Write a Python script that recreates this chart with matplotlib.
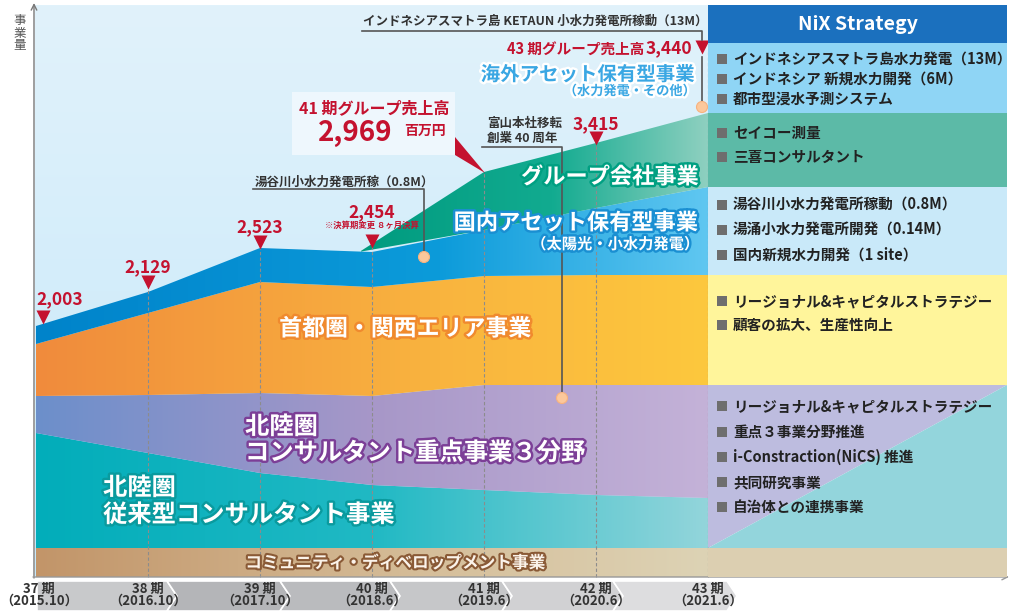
import matplotlib
matplotlib.use("Agg")
import matplotlib.pyplot as plt
import matplotlib.patheffects as pe
from matplotlib.patches import Polygon, Rectangle, Circle
from matplotlib.colors import LinearSegmentedColormap
from matplotlib.transforms import ScaledTranslation
import numpy as np

plt.rcParams['font.family'] = ['Noto Sans CJK JP', 'DejaVu Sans']

# --- data ---
periods = [37, 38, 39, 40, 41, 42, 43]
period_dates = ['2015.10', '2016.10', '2017.10', '2018.6', '2019.6', '2020.6', '2021.6']
sales = [2003, 2129, 2523, 2454, 2969, 3415, 3440]  # 百万円

# schematic band tops (height above the axis, chart units)
community_top = [29, 29, 29, 29, 29, 29, 29]
hokuriku_trad_top = [144, 124, 104, 92, 87, 82, 79]
hokuriku_focus_top = [181, 182, 184, 181, 192, 192, 192]
metro_top = [233, 264, 295, 290, 301, 302, 302]
domestic_asset_top = [251, 285, 329, 325, 347, 369, 390]
group_x = [39.9, 41, 42, 43]
group_top = [326, 405, 434, 464]

overseas_items = ['インドネシアスマトラ島水力発電（13M）', 'インドネシア 新規水力開発（6M）', '都市型浸水予測システム']
group_items = ['セイコー測量', '三喜コンサルタント']
domestic_items = ['湯谷川小水力発電所稼動（0.8M）', '湯涌小水力発電所開発（0.14M）', '国内新規水力開発（1 site）']
metro_items = ['リージョナル&キャピタルストラテジー', '顧客の拡大、生産性向上']
hokuriku_items = ['リージョナル&キャピタルストラテジー', '重点３事業分野推進', 'i-Constraction(NiCS) 推進',
                  '共同研究事業', '自治体との連携事業']

red = '#c4122f'
dark = '#333333'

fig = plt.figure(figsize=(10.10, 6.11), dpi=100)

# background layer (pixel coords)
bg = fig.add_axes([0, 0, 1, 1], zorder=0)
sky = LinearSegmentedColormap.from_list('sky', ['#e1f2fb', '#c6e8f9'])
bg.imshow(np.linspace(0, 1, 256).reshape(-1, 1), cmap=sky, extent=[35, 708, 577, 5], aspect='auto')
chev = [37, 167, 280, 390, 502, 613, 727]
shades = ['#c8c9cb', '#b4b5b8', '#babbbe', '#c6c7c9', '#d1d1d3', '#dddddf']
for i in range(len(shades)):
    a, b = chev[i], chev[i + 1]
    pts = [(a, 581), (b, 581), (b + 10, 596), (b, 611), (a, 611)]
    if i > 0:
        pts.append((a + 10, 596))
    bg.add_patch(Polygon(pts, closed=True, fc=shades[i], ec='white', lw=1.2))
bg.set_xlim(0, 1010)
bg.set_ylim(611, 0)
bg.axis('off')

# data layer
ax = fig.add_axes([0, 0, 1, 1], zorder=1)
ax.patch.set_alpha(0)
x0 = periods[0] - 36 / 112
x1 = periods[0] + 974 / 112


def grad_band(xs, lo, hi, stops, z=2):
    poly = ax.fill_between(xs, lo, hi, facecolor='none', edgecolor='none', zorder=z)
    cmap = LinearSegmentedColormap.from_list('band', stops)
    im = ax.imshow(np.linspace(0, 1, 256).reshape(1, -1), cmap=cmap,
                   extent=[xs[0], xs[-1], min(lo), max(hi)], aspect='auto',
                   origin='lower', interpolation='bilinear', zorder=z)
    im.set_clip_path(poly.get_paths()[0], transform=ax.transData)


zero = [0] * len(periods)
grad_band(periods, zero, community_top, [(0, '#c29569'), (0.6, '#d6bf9b'), (1, '#ddd3b5')])
grad_band(periods, community_top, hokuriku_trad_top, [(0, '#02adba'), (0.5, '#20b9c4'), (1, '#93d5db')])
grad_band(periods, hokuriku_trad_top, hokuriku_focus_top, [(0, '#6c8fcb'), (0.5, '#a797c8'), (1, '#c4b2d8')])
grad_band(periods, hokuriku_focus_top, metro_top, [(0, '#f08b3c'), (0.6, '#f9b43f'), (1, '#fdc83d')])
grad_band(periods, metro_top, domestic_asset_top, [(0, '#0083ca'), (0.6, '#0c9bda'), (1, '#60c7f1')])
group_base = np.interp(group_x, periods, domestic_asset_top)
grad_band(group_x, group_base, group_top, [(0, '#009b7f'), (0.55, '#12ab90'), (1, '#8fd0c0')])

stack_top = np.maximum(domestic_asset_top, np.interp(periods, group_x, group_top, left=0))

# value markers
tip_gap = [4, 5, 1, -2, 0, 0, 61]      # px above band top
mark_dx = [7, 0, 0, 0, 0, 0, -6]        # px
text_dx = [24, 0, 0, 0, 0, 0, 0]
text_dy = [23, 20, 20, 34, 0, 19, 0]
k = 0.72  # px -> pt
for i, p in enumerate(periods):
    tip = stack_top[i]
    if i == 0:
        continue_line = False
    else:
        ax.vlines(p, 0, tip + tip_gap[i], color='#8c8c8c', lw=0.8, ls=(0, (3, 2)), zorder=3)
    if i == 4:
        continue
    tr = ax.transData + ScaledTranslation(mark_dx[i] * k / 72, (tip_gap[i] + 5) * k / 72, fig.dpi_scale_trans)
    ax.plot([p], [tip], marker='v', ms=9.5, color=red, mec='none', transform=tr, zorder=4)
    if i == 6:
        continue
    ax.annotate(f'{sales[i]:,}', (p, tip), xytext=(text_dx[i] * k, (tip_gap[i] + text_dy[i]) * k),
                textcoords='offset points', ha='center', va='center', fontsize=12.5,
                fontweight='bold', color=red, zorder=4)
    if i == 3:
        ax.annotate('※決算期変更 ８ヶ月決算', (p, tip), xytext=(0, (tip_gap[i] + 20) * k),
                    textcoords='offset points', ha='center', va='center', fontsize=6,
                    fontweight='bold', color=red, zorder=4)

for i, (p, d) in enumerate(zip(periods, period_dates)):
    dx = 3 * k if i == 0 else 0
    ax.annotate(f'{p} 期', (p, -12), xytext=(dx, 0), textcoords='offset points',
                ha='center', va='center', fontsize=9.5, fontweight='bold', color=dark)
    ax.annotate(f'（{d}）', (p, -24), xytext=(dx, 0), textcoords='offset points',
                ha='center', va='center', fontsize=9.5, fontweight='bold', color=dark)

ax.set_xlim(x0, x1)
ax.set_ylim(-34, 577)
ax.axis('off')

# overlay layer (pixel coords)
ov = fig.add_axes([0, 0, 1, 1], zorder=2)
ov.patch.set_alpha(0)
ov.set_xlim(0, 1010)
ov.set_ylim(611, 0)
ov.axis('off')

ov.annotate('', xy=(34, 3), xytext=(34, 578),
            arrowprops=dict(arrowstyle='->', color='#777777', lw=1, shrinkA=0, shrinkB=0))
ov.annotate('', xy=(1009, 577), xytext=(33, 577),
            arrowprops=dict(arrowstyle='->', color='#999999', lw=1, shrinkA=0, shrinkB=0))
ov.text(20, 33, '事\n業\n量', ha='center', va='center', fontsize=9, color='#555555', linespacing=0.92)

# event annotations
ov.text(255, 182, '湯谷川小水力発電所稼（0.8M）', ha='left', va='center', fontsize=9, fontweight='bold', color=dark)
ov.plot([253, 424, 424], [189, 189, 251], color='#555555', lw=1.2, zorder=2)
ov.text(363, 21, 'インドネシアスマトラ島 KETAUN 小水力発電所稼動（13M）', ha='left', va='center',
        fontsize=9, fontweight='bold', color=dark)
ov.plot([362, 702, 702], [31, 31, 40], color='#555555', lw=1.2, zorder=2)
ov.plot([702, 702], [57, 102], color='#555555', lw=1.2, zorder=2)
ov.text(487, 123, '富山本社移転', ha='left', va='center', fontsize=9, fontweight='bold', color=dark)
ov.text(487, 138, '創業 40 周年', ha='left', va='center', fontsize=9, fontweight='bold', color=dark)
ov.plot([482, 562, 562], [147, 147, 392], color='#555555', lw=1.2, zorder=2)
for cx, cy in [(424, 257), (702, 107), (562, 398)]:
    ov.add_patch(Circle((cx, cy), 5.5, fc='#fcc89b', ec='#f7b27e', lw=0.8, zorder=3))

# 41 callout
ov.add_patch(Rectangle((292, 92), 163, 63, fc='#eef7fd', ec='none', zorder=3))
ov.add_patch(Polygon([(455, 137), (455, 155), (485, 173)], closed=True, fc=red, ec='none', zorder=3))
ov.text(374, 108, '41 期グループ売上高', ha='center', va='center', fontsize=11.5, fontweight='bold', color=red, zorder=4)
ov.text(355, 133, f'{sales[4]:,}', ha='center', va='center', fontsize=20, fontweight='bold', color=red, zorder=4)
ov.text(425, 131, '百万円', ha='center', va='center', fontsize=10, fontweight='bold', color=red, zorder=4)

ov.text(692, 48, f'{sales[6]:,}', ha='right', va='center', fontsize=12.5, fontweight='bold', color=red)
ov.text(644, 49, '43 期グループ売上高', ha='right', va='center', fontsize=10.5, fontweight='bold', color=red)


def band_label(x, y, s, size, fill, edge, ha='center', lw=3.5):
    ov.text(x, y, s, ha=ha, va='center', fontsize=size, fontweight='bold', color=fill, zorder=5,
            path_effects=[pe.withStroke(linewidth=lw, foreground=edge)])


band_label(588, 75, '海外アセット保有型事業', 14, '#3aa7e3', 'white')
band_label(630, 91, '（水力発電・その他）', 9.5, '#3aa7e3', 'white')
band_label(610, 177, 'グループ会社事業', 16, 'white', '#00a082')
band_label(576, 223, '国内アセット保有型事業', 16, 'white', '#1a8fd2')
band_label(615, 244, '（太陽光・小水力発電）', 11, 'white', '#1a8fd2')
band_label(405, 329, '首都圏・関西エリア事業', 16.5, 'white', '#f08a2e')
band_label(245, 427, '北陸圏', 17.5, 'white', '#7c3f97', ha='left')
band_label(245, 453, 'コンサルタント重点事業３分野', 17.5, 'white', '#7c3f97', ha='left')
band_label(103, 488, '北陸圏', 17.5, 'white', '#0a9a9e', ha='left')
band_label(103, 515, '従来型コンサルタント事業', 17.5, 'white', '#0a9a9e', ha='left')
band_label(395, 563, 'コミュニティ・ディベロップメント事業', 12, '#fbf3ea', '#8a5a36', lw=3)

# NiX Strategy panel
px0, px1 = 708, 1007
for top, bot, col in [(5, 43, '#1b70be'), (43, 113, '#8fd5f5'), (113, 187, '#5cbaa7'),
                      (187, 275, '#c9e9f9'), (275, 385, '#fff59b'), (548, 577, '#dccfb1')]:
    ov.add_patch(Rectangle((px0, top), px1 - px0, bot - top, fc=col, ec='none', zorder=3))
ov.add_patch(Polygon([(px0, 385), (px1, 385), (px0, 548)], closed=True, fc='#bdbcdf', ec='none', zorder=3))
ov.add_patch(Polygon([(px1, 385), (px1, 548), (px0, 548)], closed=True, fc='#93d5dc', ec='none', zorder=3))
ov.text((px0 + px1) / 2, 24, 'NiX Strategy', ha='center', va='center', fontsize=14,
        fontweight='bold', color='white', zorder=4)

rows = [(overseas_items, [59, 79, 99]), (group_items, [133, 157]), (domestic_items, [205, 230, 255]),
        (metro_items, [301, 325]), (hokuriku_items, [406, 432, 457, 482, 507])]
for items, ys in rows:
    for s, y in zip(items, ys):
        ov.add_patch(Rectangle((717, y - 5), 10, 10, fc='#6e6e6e', ec='none', zorder=4))
        ov.text(733, y, s, ha='left', va='center', fontsize=10.5, fontweight='bold', color='#222222', zorder=4)

fig.savefig('out.png', dpi=100)
